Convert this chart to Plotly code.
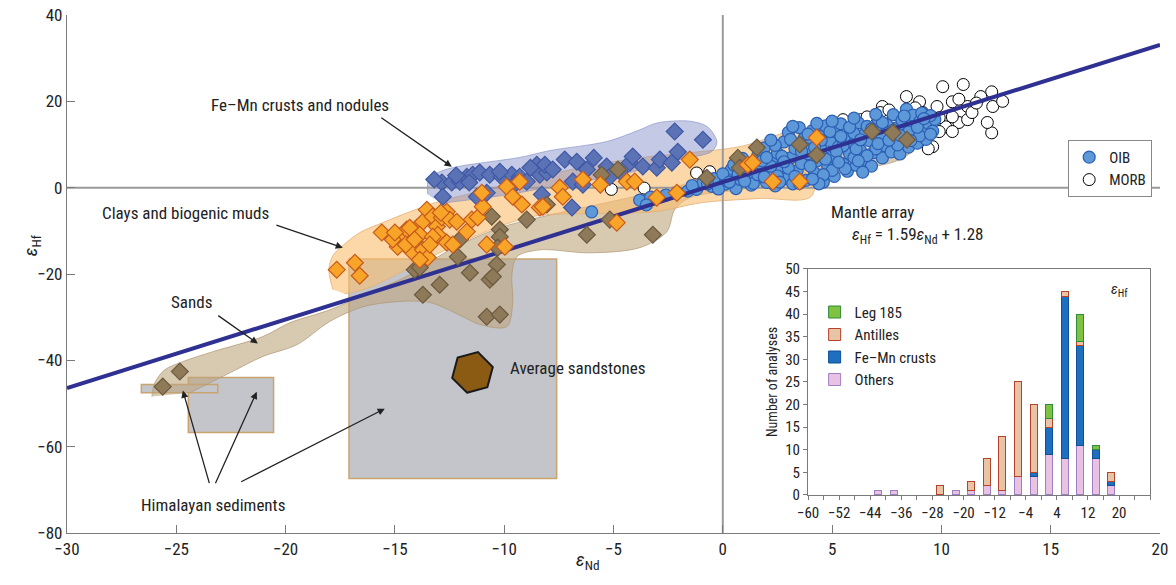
import plotly.graph_objects as go

FONT = "Liberation Sans Narrow, Arial Narrow, Roboto Condensed, Liberation Sans, Arial, sans-serif"
MINUS = "\u2212"

# ---------------- axes ----------------
X_RANGE = [-30, 20]
Y_RANGE = [-80, 40]
X_TICKS = [-30, -25, -20, -15, -10, -5, 0, 5, 10, 15, 20]
Y_TICKS = [-80, -60, -40, -20, 0, 20, 40]

# ---------------- mantle array ----------------
MANTLE_SLOPE = 1.59
MANTLE_INTERCEPT = 1.28

# ---------------- fields (eNd, eHf vertices) ----------------
FEMN_FIELD_X = [-13.5, -13.45, -12.9, -12.0, -10.8, -9.3, -7.9, -5.3, -3.8, -3.0, -1.5, -0.7, -0.27, -0.5, -2.0, -4.7, -7.5, -10.2, -12.9]
FEMN_FIELD_Y = [-1.5, 2.0, 3.8, 5.0, 5.9, 7.0, 8.6, 10.7, 13.4, 15.0, 15.4, 14.1, 10.6, 8.4, 6.5, 3.0, 0.5, -1.9, -3.6]

CLAY_FIELD_X = [-17.84, -18.02, -17.84, -17.38, -16.6, -15.46, -14.32, -13.17, -11.57, -9.29, -6.54, -3.8, -1.51, 0.78, 3.52, 3.89, 4.07, 1.7, -1.0, -3.0, -6.0, -8.5, -10.5, -12.5, -14.5, -16.2, -17.3]
CLAY_FIELD_Y = [-23.6, -19.0, -15.75, -13.4, -10.4, -7.9, -5.6, -3.5, -1.4, 1.4, 4.6, 6.9, 8.1, 9.5, 13.4, 12.3, -1.9, -2.5, -3.5, -5.5, -6.0, -6.5, -9.5, -14.0, -19.0, -23.2, -24.6]

SAND_FIELD_X = [-26.12, -25.98, -25.53, -24.7, -23.33, -21.04, -19.81, -17.98, -16.15, -14.32, -12.49, -10.2, -7.46, -4.71, -1.97, 0.78, 3.52, 6.27, 8.33, 8.69, 8.1, 6.27, 3.52, 0.78, -1.51, -2.2, -2.56, -3.8, -6.08, -8.37, -9.42, -9.65, -9.61, -9.88, -11.12, -11.89, -13.4, -14.91, -16.47, -17.98, -19.49, -21.04, -22.55, -24.38]
SAND_FIELD_Y = [-48.4, -45.2, -42.2, -40.3, -38.0, -34.5, -31.3, -28.3, -24.3, -20.2, -14.4, -9.3, -5.8, -2.8, 0.5, 4.2, 6.5, 8.8, 10.2, 8.8, 6.5, 4.2, 1.85, -0.46, -2.3, -5.1, -10.2, -13.9, -15.1, -14.4, -16.0, -20.2, -26.6, -32.2, -31.7, -29.9, -26.6, -26.4, -27.6, -31.0, -36.4, -39.1, -42.9, -47.5]

# Himalayan sediment boxes: (eNd min, eNd max, eHf min, eHf max)
HIMAL_X0 = [-17.1, -24.45, -26.6]
HIMAL_X1 = [-7.6, -20.55, -23.1]
HIMAL_Y0 = [-67.4, -56.7, -47.5]
HIMAL_Y1 = [-16.5, -44.0, -45.6]

AVG_SAND_X = [-11.45]
AVG_SAND_Y = [-42.8]

# ---------------- data points ----------------
MORB_X = [10.06, 12.3, 8.4, 9.0, 7.3, 5.5, 6.3, 10.5, 11.2, 11.8, 12.35, 10.8, 10.2, 11.2, 12.3, 9.6, 9.8, 9.15, 8.4, 7.8,
          7.2, 6.6, 10.5, 9.9, 11.4, 12.1, 9.3, 5.7, 6.3, 10.5, 9.9, 11.0, 10.8, 8.8, 7.6, 11.6, 12.8, 9.4,
          -5.1, -3.6, -1.2, -0.6]
MORB_Y = [23.4, 22.2, 21.1, 19.9, 18.8, 15.75, 15.75, 19.9, 18.8, 21.1, 18.8, 15.1, 14.1, 15.75, 12.7, 9.5, 18.8, 17.4, 17.6, 16.4,
          17.4, 16.4, 16.4, 16.2, 17.4, 15.1, 15.1, 13.4, 14.1, 13.0, 13.0, 23.9, 20.5, 18.5, 18.0, 19.6, 20.0, 9.0,
          -0.4, -0.1, 3.4, 3.7]

OIB_X = [-6.0, -3.8, -3.3, -3.5, -2.6, -2.1, -1.6, -1.2, -0.9, -0.5, -0.4, 0.1, 0.2, 0.4, 0.6, 0.8, 1.0, 1.1, 1.3, 1.5,
         1.6, 1.7, 1.9, 2.0, 2.1, 2.3, 2.4, 2.5, 2.6, 2.8, 2.9, 3.0, 3.1, 3.2, 3.3, 3.4, 3.5, 3.6, 3.7, 3.8,
         3.9, 4.0, 4.1, 4.2, 4.3, 4.4, 4.5, 4.6, 4.7, 4.8, 4.9, 5.0, 5.1, 5.2, 5.3, 5.4, 5.5, 5.6, 5.7, 5.8,
         5.9, 6.0, 6.1, 6.2, 6.3, 6.4, 6.5, 6.6, 6.7, 6.8, 6.9, 7.0, 7.1, 7.2, 7.3, 7.4, 7.5, 7.6, 7.7, 7.8,
         7.9, 8.0, 8.1, 8.2, 8.3, 8.4, 8.5, 8.6, 8.7, 8.8, 8.9, 9.0, 9.1, 9.2, 9.3, 9.4, 9.6, 9.7, 9.5, 2.2,
         1.4, 0.0, 3.0, 4.0, 5.0, 6.0, 7.0, 8.0, 8.5, 6.0, 4.5, 2.7, 1.8, 0.5, 3.8, 5.5, 7.3, 9.0, 4.6, 2.5, 6.4,
         0.3, 0.7, 1.2, 1.6, 2.0, 2.4, 2.8, 3.1, 3.3, 3.6, 3.9, 4.2, 4.4, 4.7, 4.9, 5.2, 5.4, 5.6, 5.8, 6.1,
         6.3, 6.6, 6.8, 7.1, 7.3, 7.6, 7.8, 8.1, 8.3, 8.6, 8.9, 9.2, 9.5, 1.0, 1.9, 2.6, 3.5, 4.1, 5.3, 6.2,
         -0.2, -0.7, -1.4, 0.9, 2.2, 3.2, 4.3, 5.0, 6.0, 7.0]
OIB_Y = [-5.6, -2.9, -2.2, -4.0, -1.7, -1.1, -0.8, -0.4, 1.2, 0.3, 2.1, 0.8, 2.6, 4.3, -0.2, 1.9, 3.6, 5.8, 0.6, 2.4,
         7.4, 4.6, 9.2, 1.2, 3.2, 6.1, 0.4, 8.0, 4.8, 10.6, 2.1, 12.8, 6.9, 0.9, 9.1, 3.9, 13.9, 5.6, 11.3, 1.7,
         7.9, 10.0, 13.2, 3.4, 6.2, 12.0, 8.8, 1.3, 14.3, 4.9, 10.9, 7.2, 2.6, 12.9, 9.5, 14.8, 5.5, 11.4, 3.8, 7.9,
         13.6, 10.2, 5.2, 15.0, 8.6, 12.1, 6.4, 14.2, 10.9, 5.0, 8.1, 13.1, 15.9, 11.6, 6.9, 9.7, 14.6, 12.8, 8.3, 16.9,
         10.6, 13.9, 7.8, 15.6, 11.8, 18.2, 9.4, 14.4, 16.8, 12.6, 10.3, 15.3, 17.3, 13.6, 11.2, 14.9, 13.1, 15.8, 16.7, 5.0,
         1.0, 3.2, 4.5, 5.0, 4.0, 7.0, 9.0, 9.9, 12.9, 12.6, 11.0, 7.3, 6.2, 5.3, 9.0, 9.7, 12.0, 12.0, 3.0, 2.7, 3.6,
         1.3, 3.1, 4.9, 3.0, 7.0, 9.8, 6.0, 11.2, 2.6, 8.4, 12.4, 9.3, 0.9, 6.6, 13.0, 8.4, 11.9, 4.4, 14.0, 9.0,
         11.1, 7.4, 13.6, 10.2, 15.1, 11.0, 13.3, 12.1, 16.6, 10.9, 14.0, 16.0, 12.4, 1.5, 2.5, 1.3, 1.0, 2.0, 5.9, 6.2,
         -0.3, 0.9, 0.5, 6.8, 11.0, 14.2, 14.9, 15.4, 16.1, 17.0]

FEMN_X = [-12.85, -12.81, -12.4, -12.03, -11.71, -11.44, -11.12, -10.66, -10.11, -9.65, -9.29, -8.97, -8.51, -8.37, -11.25,
          -10.8, -8.28, -8.05, -8.14, -7.78, -7.23, -6.68, -6.22, -6.86, -6.4, -6.9, -5.31, -5.17, -4.25, -4.12,
          -3.66, -3.02, -2.88, -2.33, -2.06, -2.2, -0.91, -13.2, -12.2, -10.2, -8.8, -11.6, -9.5, -4.7, -5.9]
FEMN_Y = [1.2, -2.1, 1.2, 1.4, 2.5, 3.0, 3.5, 3.0, 2.5, 3.0, 2.5, 1.4, 5.3, 3.0, -2.1,
          -1.2, -1.6, 3.5, 5.3, 4.2, 6.5, 6.0, 4.2, 1.4, 0.7, -4.6, 4.9, 2.5, 5.8, 7.2,
          4.9, 4.6, 6.5, 5.8, 8.3, 13.0, 11.1, 1.9, 2.8, 3.7, 4.6, 1.2, 0.9, 3.7, 6.9]

SAND_X = [-25.62, -24.84, -14.09, -12.95, -13.72, -11.57, -10.34, -10.66, -10.8, -10.2, -12.12, -10.57, -8.97, -10.2, -10.2,
          -10.3, -12.03, -6.22, -3.2, -5.54, -4.8, -8.05, -0.73, -5.17, -13.86, 1.56, 3.52, 4.3, 0.69, 0.78,
          6.82, 7.78, 8.42, -10.52]
SAND_Y = [-46.1, -42.6, -19.0, -22.5, -24.8, -19.7, -17.8, -21.3, -29.9, -29.4, -16.0, -6.7, -7.4, -9.7, -11.4,
          -13.9, -12.0, -10.9, -10.9, 3.0, 4.2, -3.9, 2.3, -7.4, -18.5, 9.3, 10.0, 7.6, 6.9, 4.6,
          13.0, 12.7, 11.1, -20.6]

CLAY_X = [-17.66, -16.83, -16.61, -15.6, -14.78, -14.87, -14.46, -14.0, -13.72, -13.54, -13.27, -13.08, -12.85, -12.63, -12.49,
          -12.17, -13.04, -12.63, -12.35, -14.23, -13.72, -13.5, -13.86, -14.32, -13.86, -13.27, -11.71, -11.48, -11.21, -10.98,
          -11.02, -10.8, -9.97, -9.88, -9.61, -9.29, -9.19, -8.37, -7.46, -7.32, -8.23, -4.39, -4.03, -3.02, -2.1,
          -1.51, -4.85, 4.3, 1.14, 1.37, 2.29, 3.52, -15.1, -14.5, -14.1, -13.4, -15.0, -12.9, -5.6, -6.4]
CLAY_Y = [-19.0, -17.4, -20.4, -10.4, -11.4, -13.7, -9.7, -9.3, -7.9, -5.1, -6.7, -9.0, -6.9, -5.6, -7.4,
          -7.9, -10.9, -12.7, -13.2, -14.8, -14.4, -16.2, -16.7, -9.3, -10.9, -11.4, -10.2, -7.4, -6.9, -4.4,
          -1.2, -13.2, -13.7, 0.2, -2.1, 1.4, -3.9, -4.6, 0.0, -2.1, -4.4, 1.4, 1.4, -2.3, -1.2,
          6.5, -8.1, 11.6, 5.3, 5.8, 1.4, 1.4, -12.0, -13.2, -12.0, -13.2, -10.4, -5.8, 0.7, 1.9]

# ---------------- histogram (inset) ----------------
HIST_BINS = [-42, -38, -26, -22, -18, -14, -10, -6, -2, 2, 6, 10, 14, 18]
HIST_OTHERS = [1, 1, 0, 1, 1, 2, 1, 4, 4, 9, 8, 11, 8, 2]
HIST_FEMN = [0, 0, 0, 0, 0, 0, 0, 0, 1, 6, 36, 22, 2, 1]
HIST_ANTILLES = [0, 0, 2, 0, 2, 6, 12, 21, 15, 2, 1, 1, 0, 2]
HIST_LEG185 = [0, 0, 0, 0, 0, 0, 0, 0, 0, 3, 0, 6, 1, 0]
HIST_TICKS = list(range(-60, 29, 4))
HIST_LABELED = [-60, -52, -44, -36, -28, -20, -12, -4, 4, 12, 20]
HIST_Y_TICKS = [0, 5, 10, 15, 20, 25, 30, 35, 40, 45, 50]


def fmt(v):
    return (MINUS + str(abs(v))) if v < 0 else str(v)


fig = go.Figure()

# Himalayan boxes (below traces)
for x0, x1, y0, y1 in zip(HIMAL_X0, HIMAL_X1, HIMAL_Y0, HIMAL_Y1):
    fig.add_shape(type="rect", xref="x", yref="y", x0=x0, x1=x1, y0=y0, y1=y1,
                  fillcolor="#c3c5ca", line=dict(color="#c9a46e", width=1.5), layer="below")


def field(xs, ys, fill, edge):
    fig.add_trace(go.Scatter(x=xs, y=ys, mode="lines", fill="toself", fillcolor=fill,
                             line=dict(color=edge, width=1, shape="spline", smoothing=0.9),
                             hoverinfo="skip", showlegend=False))


field(SAND_FIELD_X, SAND_FIELD_Y, "rgba(190,165,125,0.6)", "rgba(175,150,115,0.7)")
field(CLAY_FIELD_X, CLAY_FIELD_Y, "rgba(250,190,110,0.6)", "rgba(230,175,115,0.8)")
field(FEMN_FIELD_X, FEMN_FIELD_Y, "rgba(125,135,200,0.45)", "rgba(130,140,195,0.6)")

# reference lines at zero
fig.add_trace(go.Scatter(x=[0, 0], y=Y_RANGE, mode="lines", line=dict(color="#9a9a9a", width=2),
                         hoverinfo="skip", showlegend=False))
fig.add_trace(go.Scatter(x=X_RANGE, y=[0, 0], mode="lines", line=dict(color="#9a9a9a", width=2),
                         hoverinfo="skip", showlegend=False))

# MORB & OIB
fig.add_trace(go.Scatter(x=MORB_X, y=MORB_Y, mode="markers", name="MORB", legendrank=2,
                         marker=dict(symbol="circle", size=12, color="white", line=dict(color="black", width=1))))
fig.add_trace(go.Scatter(x=OIB_X, y=OIB_Y, mode="markers", name="OIB", legendrank=1,
                         marker=dict(symbol="circle", size=12, color="#5d98d8", line=dict(color="#2c5fb4", width=1.2))))

# mantle array line
fig.add_trace(go.Scatter(x=X_RANGE, y=[MANTLE_SLOPE * v + MANTLE_INTERCEPT for v in X_RANGE], mode="lines",
                         line=dict(color="#2e3192", width=4), hoverinfo="skip", showlegend=False))

# sediments
fig.add_trace(go.Scatter(x=FEMN_X, y=FEMN_Y, mode="markers", showlegend=False,
                         marker=dict(symbol="diamond", size=13, color="#5b72b5", line=dict(color="#3e58a5", width=1.2))))
fig.add_trace(go.Scatter(x=SAND_X, y=SAND_Y, mode="markers", showlegend=False,
                         marker=dict(symbol="diamond", size=13, color="#8e7a58", line=dict(color="#6b5a40", width=1.2))))
fig.add_trace(go.Scatter(x=CLAY_X, y=CLAY_Y, mode="markers", showlegend=False,
                         marker=dict(symbol="diamond", size=13, color="#f8a428", line=dict(color="#c65a1e", width=1.2))))

# average sandstone
fig.add_trace(go.Scatter(x=AVG_SAND_X, y=AVG_SAND_Y, mode="markers", showlegend=False,
                         marker=dict(symbol="hexagon2", angle=-15, size=42, color="#8b5a13",
                                     line=dict(color="#1a1a1a", width=2))))

# ---------------- inset histogram ----------------
def nz(vals):
    return [v if v else None for v in vals]


for name, vals, fill, edge in [("Others", HIST_OTHERS, "#e9c1e3", "#9d7fc4"),
                               ("Fe\u2013Mn crusts", HIST_FEMN, "#1f6fc0", "#0e4f95"),
                               ("Antilles", HIST_ANTILLES, "#e8c3a6", "#b5432a"),
                               ("Leg 185", HIST_LEG185, "#7fc241", "#2f8a3a")]:
    fig.add_trace(go.Bar(x=HIST_BINS, y=nz(vals), name=name, width=1.8, xaxis="x2", yaxis="y2",
                         marker=dict(color=fill, line=dict(color=edge, width=1)), legend="legend2"))

axis_color = "#7a7a7a"
fig.update_layout(
    width=1176, height=585,
    margin=dict(l=67, r=16, t=15, b=52),
    paper_bgcolor="white", plot_bgcolor="white",
    font=dict(family=FONT, size=17, color="#222"),
    barmode="stack",
    xaxis=dict(range=X_RANGE, tickvals=X_TICKS, ticktext=[fmt(v) for v in X_TICKS], ticks="inside", ticklen=8,
               tickcolor=axis_color, showline=True, linecolor=axis_color, linewidth=1.2,
               showgrid=False, zeroline=False, domain=[0, 1], automargin=False),
    yaxis=dict(range=Y_RANGE, tickvals=Y_TICKS, ticktext=[fmt(v) for v in Y_TICKS], ticks="inside", ticklen=8,
               tickcolor=axis_color, showline=True, linecolor=axis_color, linewidth=1.2,
               showgrid=False, zeroline=False, domain=[0, 1], automargin=False),
    xaxis2=dict(domain=[0.678, 0.991], anchor="y2", range=[-60, 28], tickvals=HIST_TICKS,
                ticktext=[fmt(v) if v in HIST_LABELED else "" for v in HIST_TICKS],
                ticks="outside", ticklen=4, tickcolor=axis_color, showline=True, mirror=True,
                linecolor=axis_color, linewidth=1.2, showgrid=False, zeroline=False,
                tickfont=dict(size=15), automargin=False),
    yaxis2=dict(domain=[0.0734, 0.5097], anchor="x2", range=[0, 50], tickvals=HIST_Y_TICKS,
                ticks="outside", ticklen=4, tickcolor=axis_color, showline=True, mirror=True,
                linecolor=axis_color, linewidth=1.2, showgrid=False, zeroline=False,
                tickfont=dict(size=15), automargin=False,
                title=dict(text="Number of analyses", font=dict(size=14), standoff=4)),
    legend=dict(x=0.916, y=0.759, xanchor="left", yanchor="top", bgcolor="white",
                bordercolor="#888", borderwidth=1, font=dict(size=15), traceorder="normal",
                itemwidth=30, tracegroupgap=0),
    legend2=dict(x=0.684, y=0.458, xanchor="left", yanchor="top", bgcolor="rgba(0,0,0,0)",
                 font=dict(size=15), traceorder="reversed", itemwidth=30),
    showlegend=True,
)

ann_font = dict(family=FONT, size=17, color="#222")
texts = [
    ("Fe\u2013Mn crusts and nodules", -19.35, 19.2, "center"),
    ("Clays and biogenic muds", -24.6, -5.8, "center"),
    ("Sands", -24.3, -26.6, "center"),
    ("Himalayan sediments", -23.33, -73.4, "center"),
    ("Average sandstones", -9.84, -41.7, "left"),
    ("Mantle array", 6.86, -5.56, "center"),
    ("<i>\u03b5</i><sub>Hf</sub> = 1.59<i>\u03b5</i><sub>Nd</sub> + 1.28", 8.92, -11.1, "center"),
]
for t, x, y, anc in texts:
    fig.add_annotation(x=x, y=y, xref="x", yref="y", text=t, showarrow=False, xanchor=anc,
                       yanchor="middle", font=ann_font)

arrows = [
    (-12.4, 4.86, -15.69, 16.45),
    (-17.38, -13.9, -20.49, -8.57),
    (-21.27, -36.1, -23.15, -29.4),
    (-24.7, -47.0, -23.47, -68.8),
    (-21.32, -47.3, -23.24, -68.8),
    (-15.46, -51.2, -22.1, -68.3),
]
for hx, hy, tx, ty in arrows:
    fig.add_annotation(x=hx, y=hy, ax=tx, ay=ty, xref="x", yref="y", axref="x", ayref="y",
                       text="", showarrow=True, arrowhead=2, arrowsize=1.1, arrowwidth=1.3,
                       arrowcolor="#222")

# axis titles
fig.add_annotation(x=0.4767, y=-0.081, xref="paper", yref="paper", text="<i>\u03b5</i><sub>Nd</sub>",
                   showarrow=False, font=dict(family=FONT, size=19, color="#222"))
fig.add_annotation(x=-0.045, y=0.556, xref="paper", yref="paper", text="<i>\u03b5</i><sub>Hf</sub>",
                   showarrow=False, textangle=-90, font=dict(family=FONT, size=19, color="#222"))
# inset label
fig.add_annotation(x=0.9725, y=0.469, xref="paper", yref="paper", text="<i>\u03b5</i><sub>Hf</sub>",
                   showarrow=False, font=dict(family=FONT, size=15, color="#222"))

fig.write_html("out.html", config={"displayModeBar": False},
               post_script="document.body.style.margin='0';")
